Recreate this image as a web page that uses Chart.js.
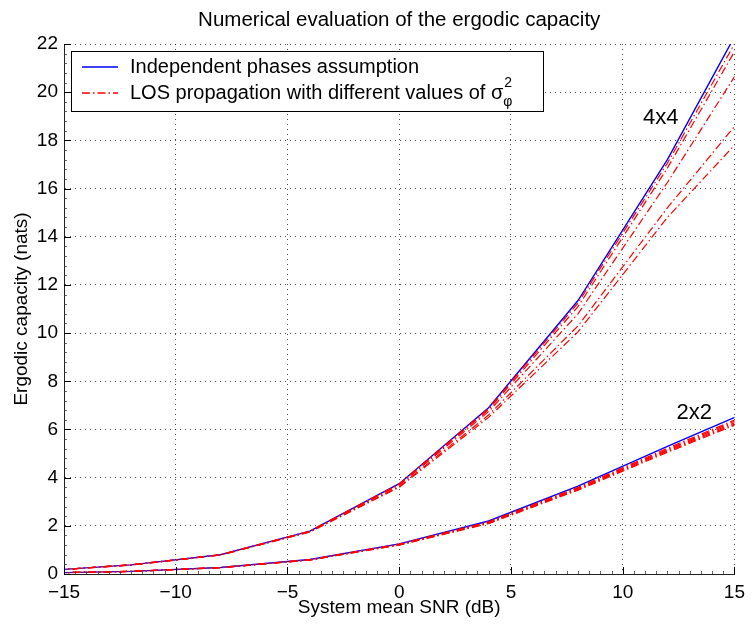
<!DOCTYPE html>
<html><head><meta charset="utf-8">
<script src="https://cdn.jsdelivr.net/npm/chart.js@4.4.1/dist/chart.umd.min.js"></script>
<style>html,body{margin:0;padding:0;background:#fff}canvas{display:block}</style>
</head><body>
<canvas id="c" width="752" height="626"></canvas>
<script>
// ---- data ----
const snr = [-16, -12, -8, -4, 0, 4, 8, 12, 16];
const xTickValues = [-15, -10, -5, 0, 5, 10, 15];
const yTickValues = [0, 2, 4, 6, 8, 10, 12, 14, 16, 18, 20, 22];

const indep4x4 = [0.13, 0.38, 0.80, 1.78, 3.75, 6.90, 11.35, 17.20, 24.00];
const los4x4_a = [0.13, 0.38, 0.80, 1.78, 3.74, 6.87, 11.25, 17.05, 23.65];
const los4x4_b = [0.13, 0.38, 0.80, 1.77, 3.72, 6.82, 11.10, 16.85, 23.29];
const los4x4_c = [0.13, 0.38, 0.79, 1.76, 3.69, 6.74, 10.80, 16.25, 22.10];
const los4x4_d = [0.13, 0.37, 0.79, 1.75, 3.63, 6.60, 10.30, 15.20, 19.70];
const los4x4_e = [0.13, 0.37, 0.79, 1.74, 3.60, 6.50, 10.05, 14.80, 18.80];

const indep2x2 = [0.04, 0.11, 0.27, 0.60, 1.25, 2.20, 3.65, 5.30, 6.90];
const los2x2_a = [0.04, 0.11, 0.27, 0.60, 1.24, 2.17, 3.60, 5.22, 6.78];
const los2x2_b = [0.04, 0.11, 0.27, 0.59, 1.23, 2.15, 3.57, 5.17, 6.72];
const los2x2_c = [0.04, 0.11, 0.26, 0.59, 1.22, 2.13, 3.54, 5.13, 6.66];
const los2x2_d = [0.04, 0.11, 0.26, 0.58, 1.21, 2.11, 3.51, 5.09, 6.60];
const los2x2_e = [0.04, 0.10, 0.26, 0.58, 1.20, 2.09, 3.48, 5.05, 6.55];

const titleText = 'Numerical evaluation of the ergodic capacity';
const xTitle = 'System mean SNR (dB)';
const yTitle = 'Ergodic capacity (nats)';
const legendLabels = ['Independent phases assumption', 'LOS propagation with different values of σ'];
const curveLabels = [{text: '4x4', x: 11.7, y: 18.95}, {text: '2x2', x: 13.2, y: 6.7}];

// ---- styling ----
const FONT = "'Liberation Sans', Arial, Helvetica, sans-serif";
const BLUE = '#0000ff';
const RED = '#ff0000';
const RED_DASH = [8, 3, 1.5, 3];

function pts(ys) { return snr.map((x, i) => ({x: x, y: ys[i]})); }
function blue(label, ys) {
  return {label, data: pts(ys), borderColor: BLUE, borderWidth: 1.4, pointRadius: 0, fill: false, tension: 0, order: 2};
}
function red(label, ys) {
  return {label, data: pts(ys), borderColor: RED, borderWidth: 1.2, borderDash: RED_DASH, pointRadius: 0, fill: false, tension: 0, order: 1};
}

const datasets = [
  blue('Independent 4x4', indep4x4),
  blue('Independent 2x2', indep2x2),
  red('LOS 4x4 a', los4x4_a), red('LOS 4x4 b', los4x4_b), red('LOS 4x4 c', los4x4_c),
  red('LOS 4x4 d', los4x4_d), red('LOS 4x4 e', los4x4_e),
  red('LOS 2x2 a', los2x2_a), red('LOS 2x2 b', los2x2_b), red('LOS 2x2 c', los2x2_c),
  red('LOS 2x2 d', los2x2_d), red('LOS 2x2 e', los2x2_e)
];

const decor = {
  id: 'decor',
  afterDraw(chart) {
    const ctx = chart.ctx, ca = chart.chartArea;
    const xs = chart.scales.x, ys = chart.scales.y;
    ctx.save();
    // minor ticks
    ctx.strokeStyle = 'rgba(60,60,60,0.8)';
    ctx.lineWidth = 1;
    ctx.beginPath();
    for (let v = -15; v <= 15.001; v += 0.5) {
      const px = Math.round(xs.getPixelForValue(v)) + 0.5;
      ctx.moveTo(px, ca.bottom); ctx.lineTo(px, ca.bottom - 3);
    }
    for (let v = 0; v <= 22.001; v += 0.4) {
      const py = Math.round(ys.getPixelForValue(v)) + 0.5;
      ctx.moveTo(ca.left, py); ctx.lineTo(ca.left + 3, py);
    }
    ctx.stroke();
    // major ticks (inward)
    ctx.strokeStyle = '#000';
    ctx.beginPath();
    xTickValues.forEach(v => {
      const px = Math.round(xs.getPixelForValue(v)) + 0.5;
      ctx.moveTo(px, ca.bottom); ctx.lineTo(px, ca.bottom - 7);
    });
    yTickValues.forEach(v => {
      const py = Math.round(ys.getPixelForValue(v)) + 0.5;
      ctx.moveTo(ca.left, py); ctx.lineTo(ca.left + 7, py);
    });
    ctx.stroke();

    // title
    ctx.fillStyle = '#000';
    ctx.font = '20.5px ' + FONT;
    ctx.textAlign = 'center';
    ctx.textBaseline = 'middle';
    ctx.fillText(titleText, (ca.left + ca.right) / 2, 20);

    // curve labels
    ctx.font = '22px ' + FONT;
    curveLabels.forEach(l => {
      ctx.fillText(l.text, xs.getPixelForValue(l.x), ys.getPixelForValue(l.y));
    });

    // legend
    const lx = ca.left + 7, ly = ca.top + 7, lw = 472, lh = 60;
    ctx.fillStyle = '#fff';
    ctx.fillRect(lx, ly, lw, lh);
    ctx.strokeStyle = '#000';
    ctx.lineWidth = 1;
    ctx.strokeRect(lx + 0.5, ly + 0.5, lw, lh);
    const r1 = ly + 16, r2 = ly + 42;
    ctx.beginPath();
    ctx.strokeStyle = BLUE; ctx.lineWidth = 1.5;
    ctx.moveTo(lx + 11, r1); ctx.lineTo(lx + 47, r1);
    ctx.stroke();
    ctx.beginPath();
    ctx.strokeStyle = RED; ctx.lineWidth = 1.5;
    ctx.setLineDash(RED_DASH);
    ctx.moveTo(lx + 11, r2); ctx.lineTo(lx + 47, r2);
    ctx.stroke();
    ctx.setLineDash([]);
    ctx.fillStyle = '#000';
    ctx.font = '20px ' + FONT;
    ctx.textAlign = 'left';
    ctx.textBaseline = 'middle';
    ctx.fillText(legendLabels[0], lx + 59, r1);
    ctx.fillText(legendLabels[1], lx + 59, r2);
    const w = ctx.measureText(legendLabels[1]).width;
    ctx.font = '14px ' + FONT;
    ctx.fillText('2', lx + 60 + w, r2 - 10);
    ctx.fillText('φ', lx + 59 + w, r2 + 9);
    ctx.restore();
  }
};

const minus = v => String(v).replace('-', '\u2212');

new Chart(document.getElementById('c'), {
  type: 'line',
  data: {datasets},
  plugins: [decor],
  options: {
    responsive: false,
    animation: false,
    layout: {padding: {left: 0, right: 14, top: 44, bottom: 0}},
    plugins: {legend: {display: false}, tooltip: {enabled: false}, title: {display: false}},
    scales: {
      x: {
        type: 'linear', min: -15, max: 15,
        afterBuildTicks: s => { s.ticks = xTickValues.map(v => ({value: v})); },
        afterFit: s => { s.height = 52; },
        ticks: {color: '#000', font: {size: 19, family: FONT}, padding: 7, maxRotation: 0, callback: minus},
        grid: {color: 'rgba(0,0,0,0.7)', lineWidth: 1, drawTicks: false},
        border: {display: true, color: '#222', width: 1, dash: [1, 4]},
        title: {display: true, text: xTitle, color: '#000', font: {size: 19, family: FONT}, padding: {top: 0, bottom: 7}}
      },
      y: {
        type: 'linear', min: 0, max: 22,
        afterBuildTicks: s => { s.ticks = yTickValues.map(v => ({value: v})); },
        afterFit: s => { s.width = 64; },
        ticks: {color: '#000', font: {size: 19, family: FONT}, padding: 6},
        grid: {color: 'rgba(0,0,0,0.7)', lineWidth: 1, drawTicks: false},
        border: {display: true, color: '#222', width: 1, dash: [1, 4]},
        title: {display: true, text: yTitle, color: '#000', font: {size: 19, family: FONT}, padding: {top: 10, bottom: 0}}
      }
    }
  }
});
</script>
</body></html>
